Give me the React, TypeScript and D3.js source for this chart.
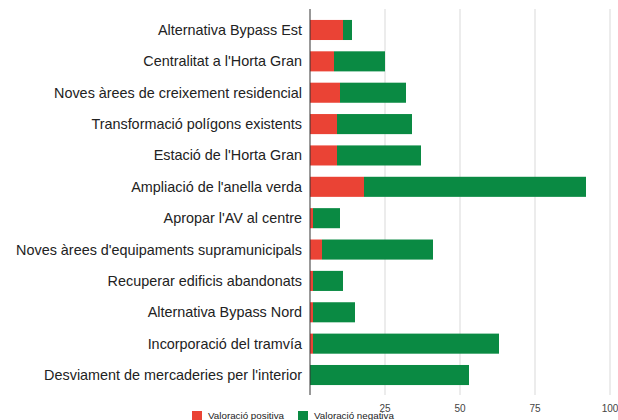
import React from "react";
import * as d3 from "d3";

const categories = [
  "Alternativa Bypass Est",
  "Centralitat a l'Horta Gran",
  "Noves àrees de creixement residencial",
  "Transformació polígons existents",
  "Estació de l'Horta Gran",
  "Ampliació de l'anella verda",
  "Apropar l'AV al centre",
  "Noves àrees d'equipaments supramunicipals",
  "Recuperar edificis abandonats",
  "Alternativa Bypass Nord",
  "Incorporació del tramvía",
  "Desviament de mercaderies per l'interior",
];
const positiva = [11, 8, 10, 9, 9, 18, 1, 4, 1, 1, 1, 0];
const negativa = [3, 17, 22, 25, 28, 74, 9, 37, 10, 14, 62, 53];
const tickValues = [25, 50, 75, 100];
const seriesNames = ["Valoració positiva", "Valoració negativa"];
const colors = ["#ea4335", "#0a8a43"];

export default function App() {
  const W = 618;
  const H = 420;
  const x = d3.scaleLinear().domain([0, 100]).range([310, 610]);
  const y = d3
    .scaleBand<string>()
    .domain(categories)
    .range([14.3, 390.7])
    .paddingInner(0.36)
    .paddingOuter(0.18);
  const font = "'Liberation Sans', Arial, sans-serif";
  const stackData = categories.map((c, i) => ({ c, p: positiva[i], n: negativa[i] }));
  const stack = d3.stack<any>().keys(["p", "n"])(stackData);

  return (
    <svg
      width={W}
      height={H}
      style={{ position: "absolute", left: 0, top: 0, background: "#fff" }}
      fontFamily={font}
    >
      {tickValues.map((t) => (
        <line key={t} x1={x(t)} x2={x(t)} y1={9} y2={395} stroke="#d9d9d9" strokeWidth={1} />
      ))}
      {stack.map((s, si) =>
        s.map((d: any, i: number) => {
          const w = x(d[1]) - x(d[0]);
          if (w <= 0) return null;
          return (
            <rect
              key={si + "-" + i}
              x={x(d[0])}
              y={y(categories[i])}
              width={w}
              height={y.bandwidth()}
              fill={colors[si]}
            />
          );
        })
      )}
      <line x1={310} x2={310} y1={9} y2={395} stroke="#333" strokeWidth={1} />
      {categories.map((c) => (
        <text
          key={c}
          x={302}
          y={(y(c) as number) + y.bandwidth() / 2}
          dy="0.35em"
          textAnchor="end"
          fontSize={14.4}
          fill="#222"
        >
          {c}
        </text>
      ))}
      {tickValues.map((t) => (
        <text key={t} x={x(t)} y={411.5} textAnchor="middle" fontSize={10} fill="#444">
          {t}
        </text>
      ))}
      {seriesNames.map((n, i) => {
        const lx = i === 0 ? 192 : 298;
        return (
          <g key={n}>
            <rect x={lx} y={411} width={10} height={10} fill={colors[i]} />
            <text x={lx + 16} y={418.5} fontSize={9.8} fill="#222">
              {n}
            </text>
          </g>
        );
      })}
    </svg>
  );
}
